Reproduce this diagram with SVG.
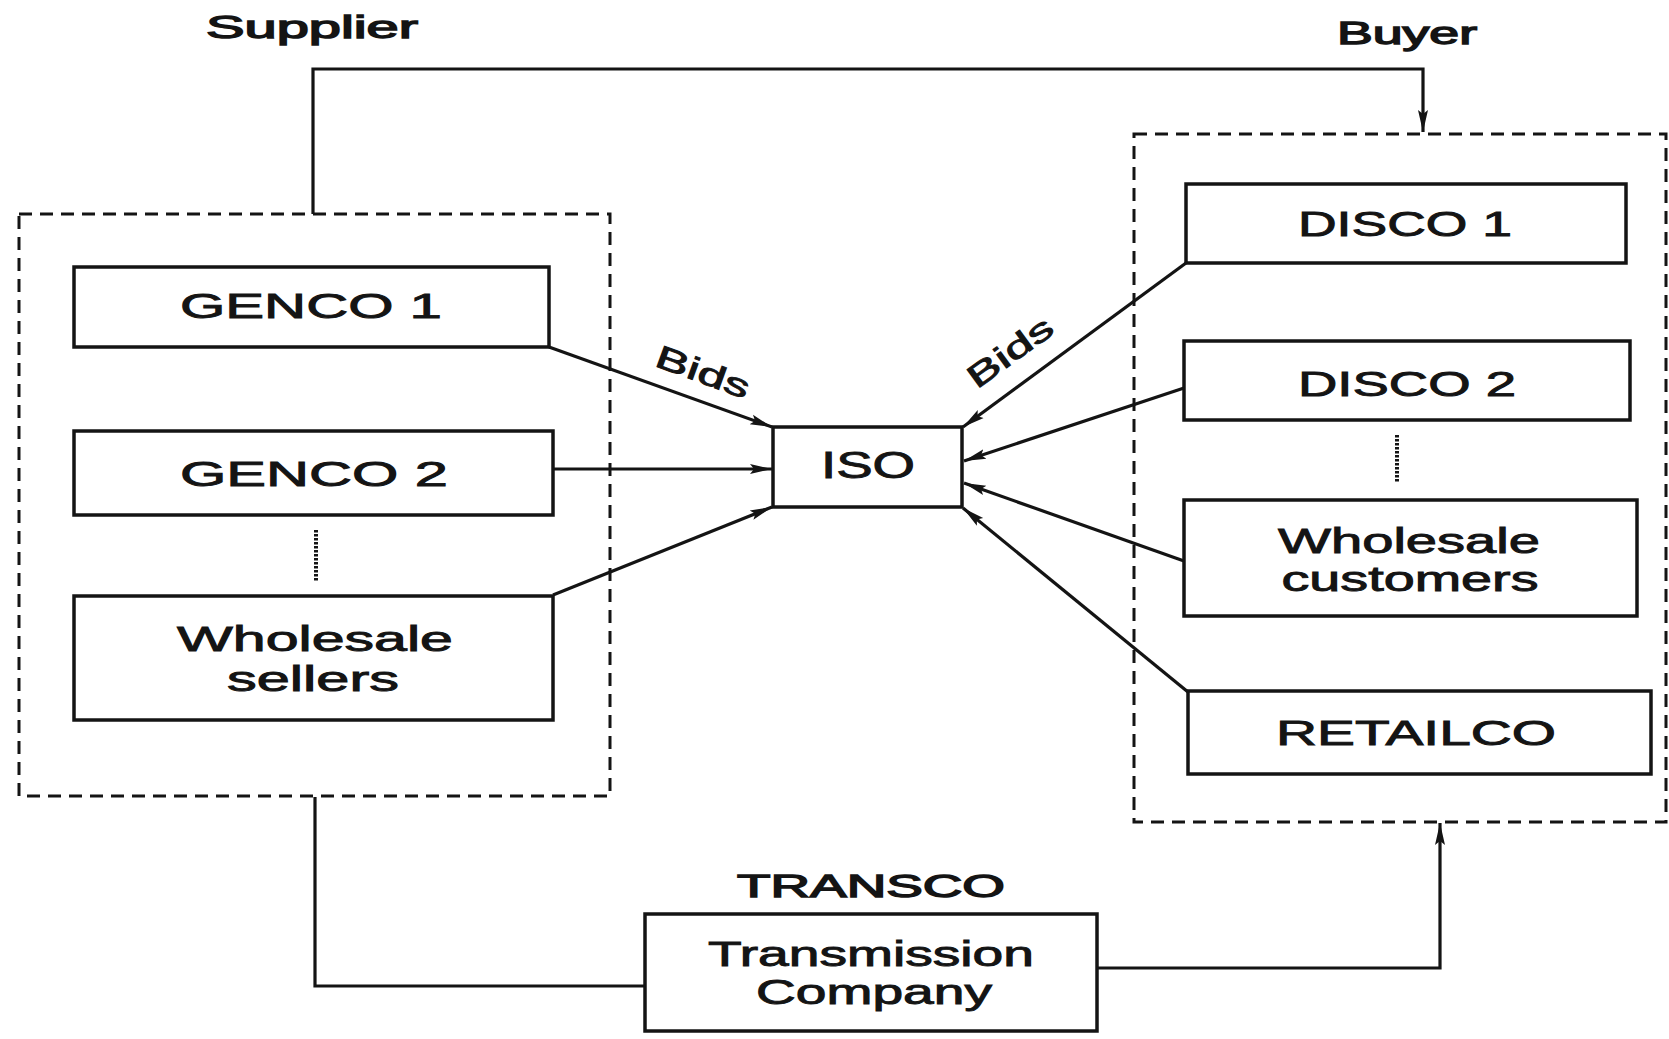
<svg xmlns="http://www.w3.org/2000/svg" width="1669" height="1039" viewBox="0 0 1669 1039">
<style>
.bg{fill:#ffffff}
.box{fill:#ffffff;stroke:#141414;stroke-width:3.5}
.dash{fill:none;stroke:#141414;stroke-width:3;stroke-dasharray:13 8}
.dot{fill:none;stroke:#141414;stroke-width:4;stroke-dasharray:2.5 1.5}
.ln{fill:none;stroke:#141414;stroke-width:3.2}
.t{font-family:"Liberation Sans",Arial,Helvetica,sans-serif;font-size:35px;fill:#141414;stroke:#141414;stroke-width:0.9;text-anchor:middle}
.h{font-size:32px;stroke-width:1.4}
.b{font-size:32px}
</style>
<defs>
<marker id="ah" markerUnits="userSpaceOnUse" markerWidth="24" markerHeight="14" refX="22" refY="7" orient="auto">
<path d="M0,2 L22,7 L0,12 L4,7 Z" fill="#141414"/>
</marker>
</defs>
<rect class="bg" x="0" y="0" width="1669" height="1039"/>

<g id="supplier-group">
<rect class="dash" x="19" y="214" width="591" height="582"/>
<text class="t h" x="312" y="38" textLength="212" lengthAdjust="spacingAndGlyphs">Supplier</text>
</g>
<g id="buyer-group">
<rect class="dash" x="1134" y="134" width="532" height="688"/>
<text class="t h" x="1407" y="44" textLength="140" lengthAdjust="spacingAndGlyphs">Buyer</text>
</g>

<g id="connectors">
<path class="ln" d="M313,214 V69 H1423 V132" marker-end="url(#ah)"/>
<path class="ln" d="M315,797 V986 H645"/>
<path class="ln" d="M1097,968 H1440 V823" marker-end="url(#ah)"/>
<path class="ln" d="M549,347 L772,427" marker-end="url(#ah)"/>
<path class="ln" d="M553,469 L772,469" marker-end="url(#ah)"/>
<path class="ln" d="M553,595 L772,507" marker-end="url(#ah)"/>
<path class="ln" d="M1186,263 L963,427" marker-end="url(#ah)"/>
<path class="ln" d="M1184,388 L964,461" marker-end="url(#ah)"/>
<path class="ln" d="M1184,561 L964,483" marker-end="url(#ah)"/>
<path class="ln" d="M1188,692 L963,508" marker-end="url(#ah)"/>
<path class="dot" d="M316,530 V582"/>
<path class="dot" d="M1397,435 V483"/>
<text class="t b" transform="translate(703,372) rotate(20)" x="0" y="11" textLength="98" lengthAdjust="spacingAndGlyphs">Bids</text>
<text class="t b" transform="translate(1010,352) rotate(-36)" x="0" y="11" textLength="98" lengthAdjust="spacingAndGlyphs">Bids</text>
</g>

<g id="genco1">
<rect class="box" x="74" y="267" width="475" height="80"/>
<text class="t" x="311" y="318" textLength="262" lengthAdjust="spacingAndGlyphs">GENCO 1</text>
</g>
<g id="genco2">
<rect class="box" x="74" y="431" width="479" height="84"/>
<text class="t" x="314" y="486" textLength="268" lengthAdjust="spacingAndGlyphs">GENCO 2</text>
</g>
<g id="wholesale-sellers">
<rect class="box" x="74" y="596" width="479" height="124"/>
<text class="t" x="315" y="651" textLength="276" lengthAdjust="spacingAndGlyphs">Wholesale</text>
<text class="t" x="313" y="691" textLength="172" lengthAdjust="spacingAndGlyphs">sellers</text>
</g>
<g id="iso">
<rect class="box" x="773" y="427" width="189" height="80"/>
<text class="t" x="868" y="478" style="font-size:37px" textLength="94" lengthAdjust="spacingAndGlyphs">ISO</text>
</g>
<g id="disco1">
<rect class="box" x="1186" y="184" width="440" height="79"/>
<text class="t" x="1405" y="236" textLength="214" lengthAdjust="spacingAndGlyphs">DISCO 1</text>
</g>
<g id="disco2">
<rect class="box" x="1184" y="341" width="446" height="79"/>
<text class="t" x="1407" y="396" textLength="218" lengthAdjust="spacingAndGlyphs">DISCO 2</text>
</g>
<g id="wholesale-customers">
<rect class="box" x="1184" y="500" width="453" height="116"/>
<text class="t" x="1409" y="553" textLength="262" lengthAdjust="spacingAndGlyphs">Wholesale</text>
<text class="t" x="1410" y="591" textLength="257" lengthAdjust="spacingAndGlyphs">customers</text>
</g>
<g id="retailco">
<rect class="box" x="1188" y="691" width="463" height="83"/>
<text class="t" x="1416" y="745" textLength="280" lengthAdjust="spacingAndGlyphs">RETAILCO</text>
</g>
<g id="transco">
<text class="t h" x="871" y="897" textLength="268" lengthAdjust="spacingAndGlyphs">TRANSCO</text>
<rect class="box" x="645" y="914" width="452" height="117"/>
<text class="t" x="871" y="966" textLength="326" lengthAdjust="spacingAndGlyphs">Transmission</text>
<text class="t" x="874" y="1004" textLength="236" lengthAdjust="spacingAndGlyphs">Company</text>
</g>
</svg>
